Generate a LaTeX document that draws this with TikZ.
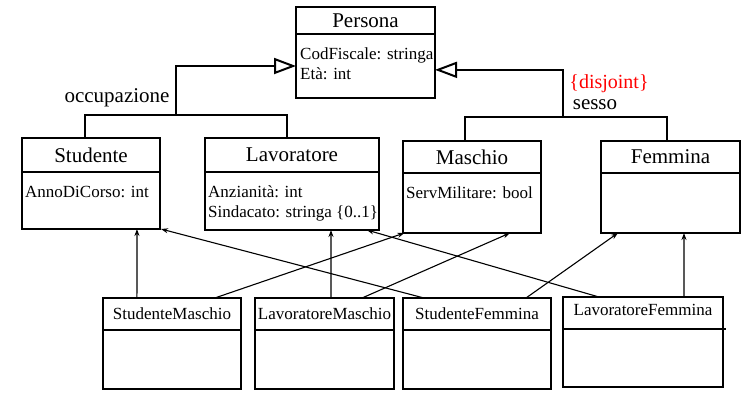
\documentclass[tikz,border=0pt]{standalone}
\usepackage{fontspec}
\setmainfont{Liberation Serif}
\usetikzlibrary{arrows.meta,calc,positioning}

\tikzset{
  hd/.style={draw,line width=2pt,inner sep=0pt,outer sep=0pt,anchor=north west,font=\fontsize{21}{24}\selectfont},
  subhd/.style={hd,font=\fontsize{17}{20}\selectfont},
  bd/.style={draw,line width=2pt,inner sep=0pt,outer sep=0pt},
  att/.style={inner sep=0pt,anchor=north west,align=left,font=\fontsize{17}{20.5}\selectfont},
  lbl/.style={inner sep=0pt,font=\fontsize{21}{24}\selectfont},
  gen/.style={line width=2pt},
  isa/.style={line width=1.1pt,-{Stealth[length=7pt,width=5pt]}},
}

\begin{document}
\begin{tikzpicture}[x=1pt,y=-1pt]
  \useasboundingbox (0,0) rectangle (742,392);
  % superclass
  \node[hd,minimum width=139pt,minimum height=27pt] (persona) at (296,7) {Persona};
  \node[bd,minimum width=139pt,minimum height=64pt,below=0pt of persona] (personaB) {};
  \node[att] (personaA) at ($(personaB.north west)+(4,13)$) {CodFiscale: stringa\\Età: int};
  % occupazione
  \node[hd,minimum width=138pt,minimum height=34pt] (studente) at (22,138) {Studente};
  \node[bd,minimum width=138pt,minimum height=57pt,below=0pt of studente] (studenteB) {};
  \node[att] (studenteA) at ($(studenteB.north west)+(3,14)$) {AnnoDiCorso: int};
  \node[hd,minimum width=174pt,minimum height=34pt] (lavoratore) at (205,138) {Lavoratore};
  \node[bd,minimum width=174pt,minimum height=58pt,below=0pt of lavoratore] (lavoratoreB) {};
  \node[att] (lavoratoreA) at ($(lavoratoreB.north west)+(3,13)$) {Anzianità: int\\Sindacato: stringa \{0..1\}};
  % sesso
  \node[hd,minimum width=138pt,minimum height=32pt] (maschio) at (403,141) {Maschio};
  \node[bd,minimum width=138pt,minimum height=60pt,below=0pt of maschio] (maschioB) {};
  \node[att] (maschioA) at ($(maschioB.north west)+(3,13)$) {ServMilitare: bool};
  \node[hd,minimum width=139pt,minimum height=32pt] (femmina) at (601,141) {Femmina};
  \node[bd,minimum width=139pt,minimum height=60pt,below=0pt of femmina] (femminaB) {};
  % subclasses
  \node[subhd,minimum width=138pt,minimum height=32pt] (sm) at (103,298) {StudenteMaschio};
  \node[bd,minimum width=138pt,minimum height=59pt,below=0pt of sm] (smB) {};
  \node[subhd,minimum width=139pt,minimum height=32pt] (lm) at (255,298) {LavoratoreMaschio};
  \node[bd,minimum width=139pt,minimum height=59pt,below=0pt of lm] (lmB) {};
  \node[subhd,minimum width=148pt,minimum height=32pt] (sf) at (403,298) {StudenteFemmina};
  \node[bd,minimum width=148pt,minimum height=59pt,below=0pt of sf] (sfB) {};
  \node[subhd,minimum width=160pt,minimum height=32pt,text depth=6pt] (lf) at (563,297) {LavoratoreFemmina};
  \node[bd,minimum width=160pt,minimum height=58pt,below=0pt of lf] (lfB) {};
  \draw[gen] (lfB.north east) -- ++(3,0);

  % generalizations
  \coordinate (occ) at (176,115);
  \coordinate (sex) at (563,117);
  \draw[gen] ($(studente.north west)!.457!(studente.north east)$) |- (occ)
    -| ($(lavoratore.north west)!.471!(lavoratore.north east)$);
  \draw[gen,-{Triangle[open,length=22pt,width=16pt]}] (occ) |- (personaB.west);
  \draw[gen] ($(maschio.north west)!.449!(maschio.north east)$) |- (sex)
    -| ($(femmina.north west)!.475!(femmina.north east)$);
  \draw[gen,-{Triangle[open,length=22pt,width=16pt]}] (sex)
    |- ($(personaB.north east)!.56!(personaB.south east)$);
  \node[lbl] (occL) at (117,98) {occupazione};
  \node[lbl,text=red,font=\fontsize{20}{24}\selectfont] (disj) at (609,84) {\{disjoint\}};
  \node[lbl] (sexL) at (595,105) {sesso};

  % multiple inheritance
  \draw[isa] ($(sm.north west)!.246!(sm.north east)$) -- ($(studenteB.south west)!.833!(studenteB.south east)$);
  \draw[isa] ($(sm.north west)!.81!(sm.north east)$) -- ($(maschioB.south west)!.01!(maschioB.south east)$);
  \draw[isa] ($(lm.north west)!.547!(lm.north east)$) -- ($(lavoratoreB.south west)!.724!(lavoratoreB.south east)$);
  \draw[isa] ($(lm.north west)!.77!(lm.north east)$) -- ($(maschioB.south west)!.775!(maschioB.south east)$);
  \draw[isa] ($(sf.north west)!.142!(sf.north east)$) -- ($(studenteB.south east)+(1,0)$);
  \draw[isa] ($(sf.north west)!.831!(sf.north east)$) -- ($(femminaB.south west)!.122!(femminaB.south east)$);
  \draw[isa] ($(lf.north west)!.225!(lf.north east)$) -- ($(lavoratoreB.south west)!.93!(lavoratoreB.south east)$);
  \draw[isa] ($(lf.north west)!.756!(lf.north east)$) -- ($(femminaB.south west)!.597!(femminaB.south east)$);
\end{tikzpicture}
\end{document}
